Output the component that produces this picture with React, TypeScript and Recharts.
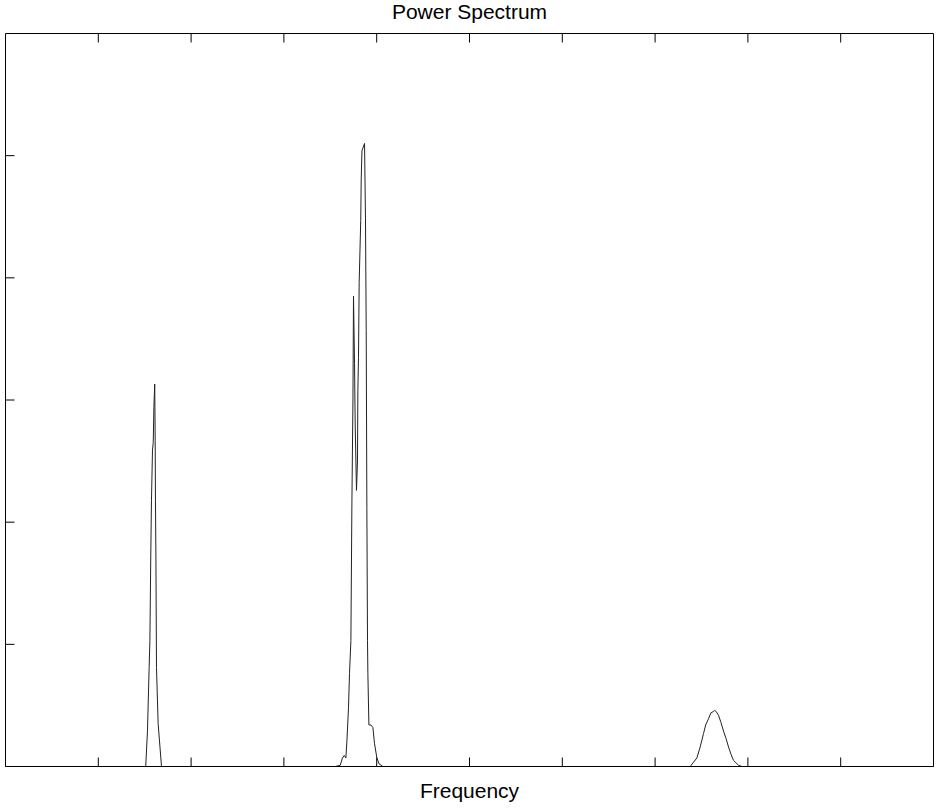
import { LineChart, Line, XAxis, YAxis } from 'recharts'

// normalised frequency (0..1) and power
const baseFreq = [0]
const basePower = [0]

const peak1Freq = [0.1511, 0.153, 0.1548, 0.1556, 0.1565, 0.1573, 0.1584, 0.1592, 0.1599, 0.1608, 0.1613, 0.1616, 0.1621, 0.1627, 0.1645, 0.1681]
const peak1Power = [0, 0.29, 0.81, 1.03, 1.69, 2.18, 2.59, 2.65, 2.94, 3.13, 2.67, 2.18, 1.69, 0.81, 0.35, 0]

const peak2Freq = [
  0.3553, 0.3607, 0.3631, 0.365, 0.3668, 0.3679, 0.3696, 0.3707, 0.3722, 0.3733, 0.3744, 0.375,
  0.3761, 0.3768, 0.3782, 0.3793, 0.3797, 0.3804, 0.3811, 0.3828, 0.3833, 0.3841, 0.3869, 0.3879,
  0.3887, 0.3894, 0.3901, 0.3905, 0.3916, 0.3937, 0.3959, 0.3976, 0.4002, 0.4027, 0.4067,
]
const peak2Power = [
  0, 0.01, 0.07, 0.09, 0.07, 0.21, 0.48, 0.76, 1.03, 2.18, 3.0, 3.85,
  3.3, 2.82, 2.26, 2.5, 3.08, 3.35, 3.96, 4.47, 4.8, 5.04, 5.1, 4.49,
  3.57, 2.11, 1.03, 0.76, 0.34, 0.34, 0.32, 0.19, 0.07, 0.02, 0,
]

const peak3Freq = [0.7378, 0.745, 0.7486, 0.7522, 0.7545, 0.7575, 0.7602, 0.7629, 0.764, 0.7658, 0.7683, 0.771, 0.7737, 0.7764, 0.7791, 0.7818, 0.7845, 0.7899, 0.7935]
const peak3Power = [0, 0.07, 0.16, 0.27, 0.34, 0.39, 0.44, 0.45, 0.46, 0.45, 0.42, 0.36, 0.29, 0.23, 0.16, 0.1, 0.05, 0.01, 0]

const endFreq = [1]
const endPower = [0]

const xTicks = [0.1, 0.2, 0.3, 0.4, 0.5, 0.6, 0.7, 0.8, 0.9]
const yTicks = [1, 2, 3, 4, 5]

const freqs = [...baseFreq, ...peak1Freq, ...peak2Freq, ...peak3Freq, ...endFreq]
const powers = [...basePower, ...peak1Power, ...peak2Power, ...peak3Power, ...endPower]
const data = freqs.map((f, i) => ({ f, p: powers[i] }))

const font = '"Liberation Sans", Arial, Helvetica, sans-serif'
const noLabel = () => ''
const black = { stroke: '#000', strokeWidth: 1 }

export default function App() {
  return (
    <div style={{ position: 'absolute', left: 0, top: 0, width: 940, height: 811, background: '#fff' }}>
      <div
        style={{
          position: 'absolute', left: 0, top: 1, width: 939, textAlign: 'center',
          fontFamily: font, fontSize: 21, lineHeight: '21px', color: '#000',
        }}
      >
        Power Spectrum
      </div>
      <LineChart
        width={940}
        height={811}
        data={data}
        margin={{ top: 13.5, left: 0.5, right: 1.5, bottom: 24.5 }}
      >
        <XAxis
          dataKey="f" type="number" domain={[0, 1]} ticks={xTicks} interval={0}
          height={20} tickSize={-9} tickFormatter={noLabel}
          axisLine={black} tickLine={black}
        />
        <XAxis
          xAxisId="top" orientation="top" dataKey="f" type="number" domain={[0, 1]} ticks={xTicks} interval={0}
          height={20} tickSize={-9} tickFormatter={noLabel}
          axisLine={black} tickLine={black}
        />
        <YAxis
          type="number" domain={[0, 6]} ticks={yTicks} interval={0}
          width={5} tickSize={-9} tickFormatter={noLabel}
          axisLine={black} tickLine={black}
        />
        <YAxis
          yAxisId="right" orientation="right" type="number" domain={[0, 6]} ticks={yTicks} interval={0}
          width={5} tickSize={-9} tickFormatter={noLabel}
          axisLine={black} tickLine={black}
        />
        <Line
          type="linear" dataKey="p" stroke="#222" strokeWidth={1}
          dot={false} activeDot={false} isAnimationActive={false}
        />
      </LineChart>
      <div
        style={{
          position: 'absolute', left: 0, top: 780, width: 939, textAlign: 'center',
          fontFamily: font, fontSize: 21, lineHeight: '21px', color: '#000',
        }}
      >
        Frequency
      </div>
    </div>
  )
}
